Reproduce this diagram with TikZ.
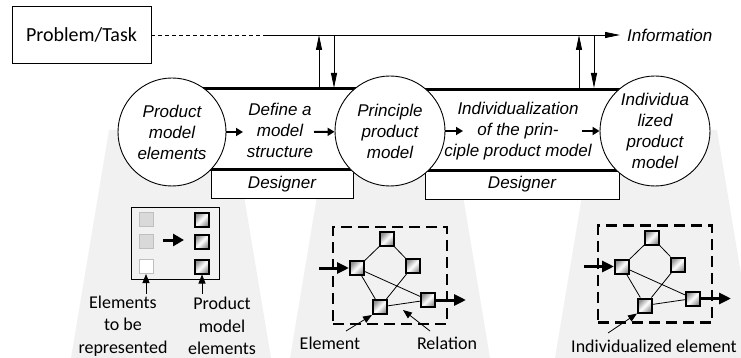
\documentclass[tikz,border=0pt]{standalone}
\usepackage{fontspec}
\setmainfont{Carlito}
\newfontfamily\arialf{Liberation Sans}
\usetikzlibrary{arrows.meta}
\definecolor{bgg}{RGB}{241,241,241}
\definecolor{lsqfill}{RGB}{217,217,217}
\definecolor{lsqdraw}{RGB}{191,191,191}
\newcommand\itf{\arialf\itshape\fontsize{17}{21}\selectfont}
\newcommand\lbf{\fontsize{18}{22.5}\selectfont}
\begin{document}
\begin{tikzpicture}[x=1pt,y=-1pt,
  circ/.style={circle,draw,fill=white,line width=0.9pt,minimum size=110pt,inner sep=0pt,align=center,font=\itf},
  procbox/.style={draw=none,fill=white,inner sep=0pt},
  proctxt/.style={align=center,font=\itf,inner sep=0pt},
  desig/.style={draw,fill=white,line width=0.9pt,font=\itf,minimum height=29pt,inner sep=0pt},
  thickline/.style={line width=3pt},
  flow/.style={line width=2pt,-{Triangle[length=7pt,width=8pt]}},
  info/.style={line width=0.9pt,-{Triangle[length=15pt,width=6pt]}},
  el/.style={draw,line width=2pt,minimum size=14pt,inner sep=0pt,left color=gray!85,right color=gray!85,middle color=white,shading angle=45},
  lsq/.style={draw=lsqdraw,fill=lsqfill,line width=1pt,minimum size=14pt,inner sep=0pt},
  lsqw/.style={lsq,fill=white},
  rel/.style={line width=0.8pt},
  bigarrow/.style={line width=3pt,-{Triangle[length=12pt,width=11pt]}},
  midarrow/.style={line width=3pt,-{Triangle[length=11pt,width=12pt]}},
  ann/.style={line width=0.8pt,-{Triangle[length=9pt,width=7pt]}},
  lab/.style={font=\lbf,align=center,inner sep=0pt},
  dbox/.style={draw,line width=2.2pt,dash pattern=on 11pt off 6pt,inner sep=0pt},
]
\useasboundingbox (0,0) rectangle (741,358);

% grey trapezoids
\foreach \cx in {171,390,655}{
  \fill[bgg] (\cx-62,130) -- (\cx+62,130) -- (\cx+100,358) -- (\cx-100,358) -- cycle;
}

% problem box and information line
\node[draw,line width=0.9pt,minimum width=139pt,minimum height=57pt,inner sep=0pt,font=\fontsize{20}{24}\selectfont] (prob) at (81.5,35) {Problem/Task};
\coordinate (dend) at (267,35);
\coordinate (iend) at (620,35);
\draw[line width=0.8pt,dash pattern=on 4pt off 3pt] (prob.east) -- (dend);
\draw[info] (dend) -- (iend);
\node[anchor=west,font=\itf,inner sep=0pt] (infot) at (627,35) {Information};

% designer boxes
\node[desig,minimum width=142pt] (des1) at (282,184) {Designer};
\node[desig,minimum width=194pt] (des2) at (522,184.5) {Designer};

% process bands
\node[procbox,minimum width=218pt,minimum height=80pt] (pr1) at (281,129) {};
\node[procbox,minimum width=265pt,minimum height=80pt] (pr2) at (522.5,130) {};
\draw[thickline] (pr1.north west) -- (pr1.north east);
\draw[thickline] (pr1.south west) -- (pr1.south east);
\draw[thickline] (pr2.north west) -- (pr2.north east);
\draw[thickline] (pr2.south west) -- (pr2.south east);
\node[proctxt] (t1) at (280,130) {Define a\\model\\structure};
\node[proctxt] (t2) at (518,131) {Individualization\\of the prin-\\ciple product model};

% circles
\node[circ,minimum size=108pt] (c1) at (172,132) {Product\\model\\elements};
\node[circ] (c2) at (390,131) {Principle\\product\\model};
\node[circ] (c3) at (655,131) {Individua\\lized\\product\\model};

% flow arrows
\coordinate (f1e) at (243,132);
\coordinate (f2s) at (314,132);
\coordinate (f3e) at (463,131);
\coordinate (f4s) at (582,131);
\draw[flow] (c1) -- (f1e);
\draw[flow] (f2s) -- (c2);
\draw[flow] (c2) -- (f3e);
\draw[flow] (f4s) -- (c3);

% vertical information arrows
\coordinate (u1b) at (319,88); \coordinate (u1t) at (319,35);
\coordinate (d1t) at (334,35); \coordinate (d1b) at (334,88);
\coordinate (u2b) at (579,88); \coordinate (u2t) at (579,35);
\coordinate (d2t) at (594,35); \coordinate (d2b) at (594,88);
\draw[info] (u1b) -- (u1t);
\draw[info] (d1t) -- (d1b);
\draw[info] (u2b) -- (u2t);
\draw[info] (d2t) -- (d2b);

% panel 1
\node[draw,line width=0.9pt,minimum width=88pt,minimum height=72pt,inner sep=0pt] (p1) at (175,243) {};
\node[lsq] (l1) at (146,219.5) {};
\node[lsq] (l2) at (146,241.5) {};
\node[lsqw] (l3) at (146,266.5) {};
\node[el] (r1) at (202,219.5) {};
\node[el] (r2) at (202,241.5) {};
\node[el] (r3) at (202,266.5) {};
\coordinate (pa1) at (163,240);
\coordinate (pa2) at (184,240);
\draw[midarrow] (pa1) -- (pa2);
\node[lab] (lt1) at (123,326) {Elements\\to be\\represented};
\node[lab] (lt2) at (222,326) {Product\\model\\elements};
\coordinate (a1) at (146,294);
\coordinate (a2) at (202,294);
\draw[ann] (a1) -- (l3.south);
\draw[ann] (a2) -- (r3.south);

% panels 2 and 3
\foreach \cx/\p/\dy in {390/b/0,655/c/1.5}{
  \node[dbox,minimum width=114pt,minimum height=97pt] (box\p) at (\cx,275.5-\dy) {};
  \node[el] (A\p) at (\cx-33,268-\dy) {};
  \node[el] (B\p) at (\cx-3,239-\dy) {};
  \node[el] (C\p) at (\cx+23,266-\dy) {};
  \node[el] (D\p) at (\cx-10,307-\dy) {};
  \node[el] (E\p) at (\cx+38,300-\dy) {};
  \draw[rel] (A\p) -- (B\p) (B\p) -- (C\p) (A\p) -- (D\p) (A\p) -- (E\p) (C\p) -- (D\p) (D\p) -- (E\p);
  \coordinate (in\p) at (\cx-71,268-\dy);
  \coordinate (out\p) at (\cx+76,300-\dy);
  \draw[bigarrow] (in\p) -- (A\p);
  \draw[bigarrow] (E\p) -- (out\p);
}

\node[lab] (elt) at (330,343) {Element};
\coordinate (ea) at (346,331);
\draw[ann] (ea) -- (Db.south west);
\node[lab] (rlt) at (447,343) {Relation};
\coordinate (ra) at (430,331);
\coordinate (rt) at (403,310);
\draw[ann] (ra) -- (rt);
\node[lab] (iet) at (654,346) {Individualized element};
\coordinate (ia) at (608,333);
\draw[ann] (ia) -- (Dc.south west);
\end{tikzpicture}
\end{document}
